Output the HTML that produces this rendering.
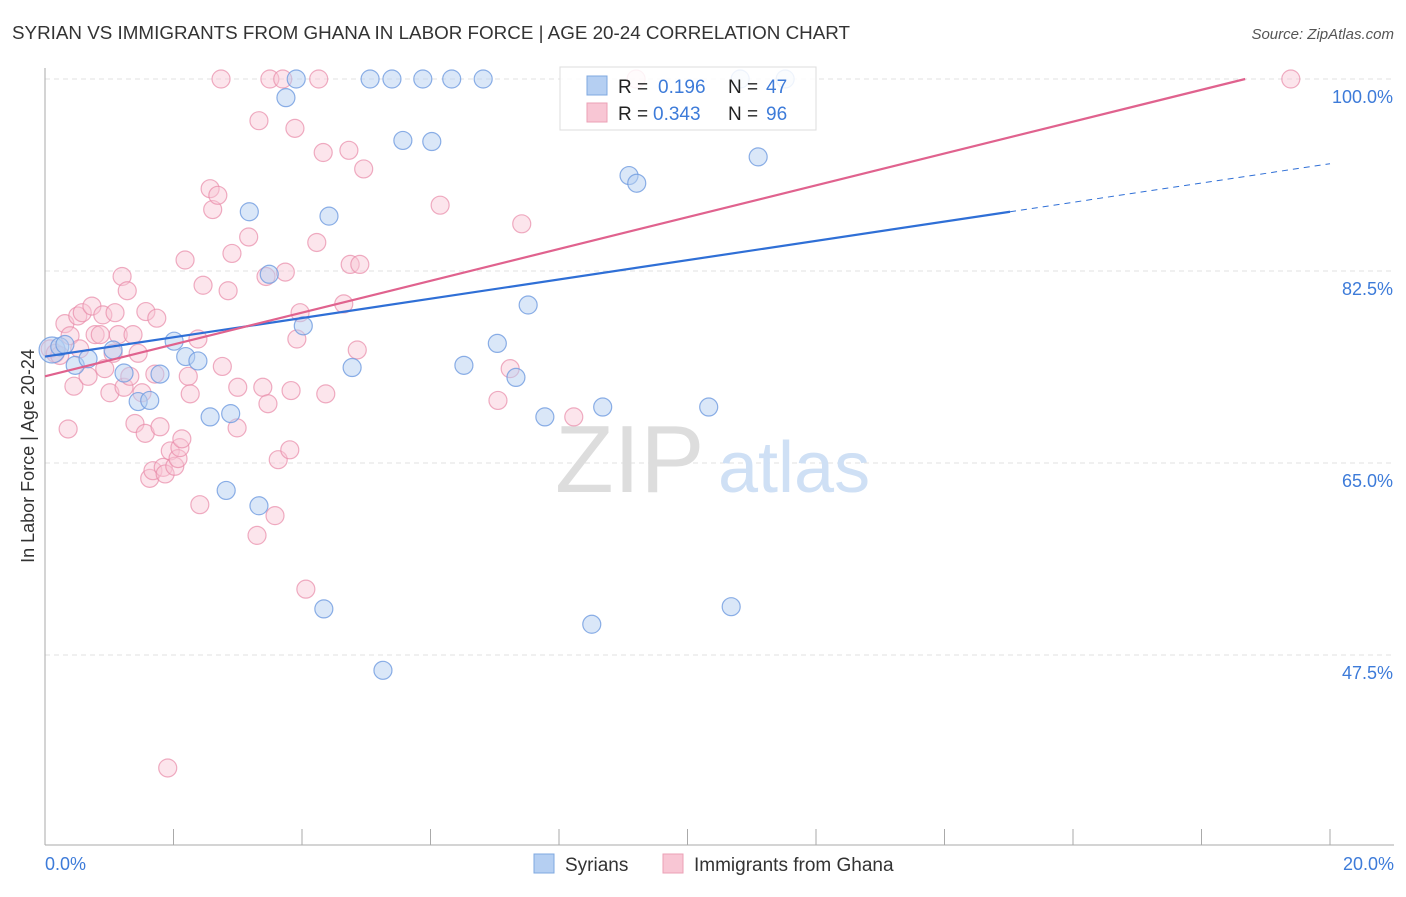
<!DOCTYPE html>
<html><head><meta charset="utf-8"><style>
body{margin:0;background:#fff;font-family:"Liberation Sans",sans-serif;}
svg text{font-family:"Liberation Sans",sans-serif;}
</style></head><body>
<svg id="chart" width="1406" height="892">
<text x="12" y="39" font-size="18" fill="#333" textLength="838" lengthAdjust="spacingAndGlyphs">SYRIAN VS IMMIGRANTS FROM GHANA IN LABOR FORCE | AGE 20-24 CORRELATION CHART</text>
<text x="1394" y="39" font-size="15" fill="#555" font-style="italic" text-anchor="end">Source: ZipAtlas.com</text>
<g id="grid"></g>
<text x="555" y="492" font-size="96" fill="#ddd" font-family="Liberation Serif">ZIP</text>
<text x="718" y="492" font-size="72" fill="#cfe0f5">atlas</text>
<line x1="45" y1="68" x2="45" y2="845" stroke="#aaa"/>
<line x1="45" y1="845" x2="1394" y2="845" stroke="#aaa"/>
<g id="pts"></g>
<g id="lines"></g>
<text transform="translate(34,456) rotate(-90)" font-size="18" fill="#333" text-anchor="middle">In Labor Force | Age 20-24</text>
<text x="45" y="870" font-size="18" fill="#3d7bd9">0.0%</text>
<text x="1394" y="870" font-size="18" fill="#3d7bd9" text-anchor="end">20.0%</text>
<g>
<rect x="560" y="67" width="256" height="63" fill="#fff" fill-opacity="0.85" stroke="#ddd"/>
<rect x="587" y="76" width="20" height="19" fill="#b5cff2" stroke="#7fa8e0"/>
<text x="618" y="93" font-size="19" fill="#222">R = </text><text x="658" y="93" font-size="19" fill="#3d7bd9">0.196</text>
<text x="728" y="93" font-size="19" fill="#222">N = </text><text x="766" y="93" font-size="19" fill="#3d7bd9">47</text>
<rect x="587" y="103" width="20" height="19" fill="#f8c6d4" stroke="#eba0b6"/>
<text x="618" y="120" font-size="19" fill="#222">R = </text><text x="653" y="120" font-size="19" fill="#3d7bd9">0.343</text>
<text x="728" y="120" font-size="19" fill="#222">N = </text><text x="766" y="120" font-size="19" fill="#3d7bd9">96</text>
</g>
<g>
<rect x="534" y="854" width="20" height="19" fill="#b5cff2" stroke="#7fa8e0"/>
<text x="565" y="871" font-size="19" fill="#333">Syrians</text>
<rect x="663" y="854" width="20" height="19" fill="#f8c6d4" stroke="#eba0b6"/>
<text x="694" y="871" font-size="19" fill="#333">Immigrants from Ghana</text>
</g>
</svg>
<script>
const yTicks=[100,82.5,65,47.5];
const yTickLabels=["100.0%","82.5%","65.0%","47.5%"];
const xTickVals=[0,2,4,6,8,10,12,14,16,18,20];
const blueX=[0.11,0.23,0.31,0.47,0.67,1.06,1.23,1.45,1.63,1.79,2.01,2.19,2.38,2.57,2.89,2.82,3.18,3.33,3.49,3.75,3.91,4.02,4.34,4.42,4.78,5.06,5.26,5.40,5.57,5.88,6.02,6.33,6.52,6.82,7.04,7.33,7.52,7.78,8.51,8.68,9.09,9.21,10.33,10.68,10.82,11.10,11.52];
const blueY=[75.3,75.6,75.8,73.9,74.5,75.3,73.2,70.6,70.7,73.1,76.1,74.7,74.3,69.2,69.5,62.5,87.9,61.1,82.2,98.3,100,77.5,51.7,87.5,73.7,100,46.1,100,94.4,100,94.3,100,73.9,100,75.9,72.8,79.4,69.2,50.3,70.1,91.2,90.5,70.1,51.9,100,92.9,100];
const pinkX=[0.08,0.16,0.23,0.31,0.36,0.39,0.45,0.51,0.54,0.58,0.67,0.73,0.78,0.86,0.90,0.93,1.01,1.06,1.09,1.14,1.20,1.23,1.28,1.32,1.37,1.40,1.45,1.51,1.56,1.57,1.63,1.68,1.71,1.74,1.79,1.84,1.87,1.95,2.02,2.07,2.10,2.13,2.18,2.23,2.26,2.38,2.41,2.46,2.57,2.61,2.69,2.74,2.76,2.85,2.91,3.00,2.99,3.17,3.30,3.33,3.39,3.44,3.47,3.58,3.63,3.74,3.81,3.83,3.89,3.92,3.97,4.06,4.23,4.26,4.33,4.37,4.65,4.73,4.75,4.86,4.90,4.96,6.15,7.05,7.24,7.42,8.23,9.20,19.39,1.91,3.50,3.70];
const pinkY=[75.4,75.0,74.8,77.7,68.1,76.6,72.0,78.4,75.4,78.7,72.9,79.3,76.7,76.7,78.5,73.6,71.4,75.0,78.7,76.7,82.0,71.9,80.7,72.9,76.7,68.6,75.0,71.4,67.7,78.8,63.6,64.3,73.1,78.2,68.3,64.6,64.0,66.1,64.7,65.4,66.4,67.2,83.5,72.9,71.3,76.3,61.2,81.2,90.0,88.1,89.4,100,73.8,80.7,84.1,71.9,68.2,85.6,58.4,96.2,71.9,82.0,70.4,60.2,65.3,82.4,66.2,71.6,95.5,76.3,78.7,53.5,85.1,100,93.3,71.3,79.5,93.5,83.1,75.3,83.1,91.8,88.5,70.7,73.6,86.8,69.2,100,100,37.2,100,100];
const NS="http://www.w3.org/2000/svg";
const xs=v=>45+v*64.25, ys=v=>79+(100-v)*10.971;
const grid=document.getElementById('grid');
function mk(tag,attrs,parent){const e=document.createElementNS(NS,tag);for(const k in attrs)e.setAttribute(k,attrs[k]);parent.appendChild(e);return e;}
yTicks.forEach((t,i)=>{
 const l=mk('line',{x1:45,x2:1394,y1:ys(t),y2:ys(t),stroke:'#e2e2e2','stroke-dasharray':'5,4'},grid);
 
 
 const tx=mk('text',{x:1393,y:ys(t)+24,'font-size':18,fill:'#3d7bd9','text-anchor':'end'},grid);
 tx.textContent=yTickLabels[i];
 
 
});
xTickVals.forEach(t=>{
 const l=mk('line',{x1:xs(t),x2:xs(t),y1:829,y2:845,stroke:'#aaa'},grid);
 
 
});
const pts=document.getElementById('pts');
pinkX.forEach((x,i)=>{
 const c=mk('circle',{cx:xs(x),cy:ys(pinkY[i]),r:9,fill:'#f8c6d4','fill-opacity':0.45,stroke:'#e88aa8','stroke-opacity':0.7,'stroke-width':1.2},pts);
 
 
});
blueX.forEach((x,i)=>{
 const c=mk('circle',{cx:xs(x),cy:ys(blueY[i]),r:i==0?13:9,fill:'#b5cff2','fill-opacity':0.5,stroke:'#6f9be0','stroke-opacity':0.8,'stroke-width':1.2},pts);
 
 
});
const lines=document.getElementById('lines');
const bA=74.7,bB=(87.9-74.7)/15.02, pA=72.9;
let l=mk('line',{x1:xs(0),y1:ys(bA),x2:xs(15.02),y2:ys(bA+bB*15.02),stroke:'#2f6fd6','stroke-width':2.2},lines);


l=mk('line',{x1:xs(15.02),y1:ys(bA+bB*15.02),x2:xs(20),y2:ys(bA+bB*20),stroke:'#2f6fd6','stroke-width':1,'stroke-dasharray':'6,5'},lines);


l=mk('line',{x1:xs(0),y1:ys(pA),x2:xs(18.68),y2:ys(100),stroke:'#e0628e','stroke-width':2.2},lines);


</script>
</body></html>
